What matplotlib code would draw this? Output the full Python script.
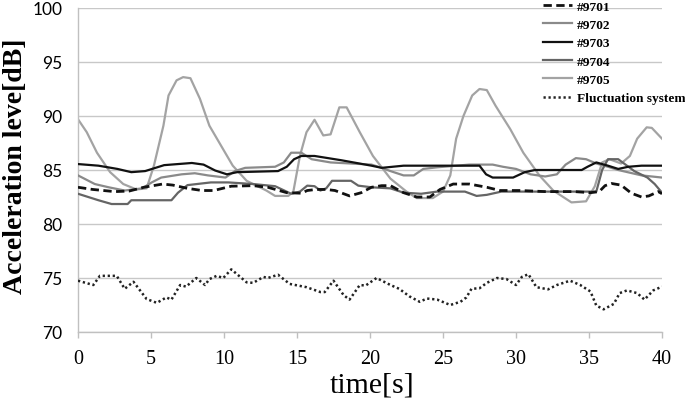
import matplotlib
matplotlib.use("Agg")
import matplotlib.pyplot as plt

# ---- data ----
t_9701 = [0, 1.0, 2.5, 3.5, 4.5, 5.8, 6.5, 7.5, 8.5, 9.3, 10.5, 12.0, 13.0, 14.3, 15.3, 15.7, 16.3,
          17.0, 17.6, 18.6, 19.4, 20.1, 20.8, 21.4, 22.3, 23.2, 24.1, 24.8, 25.7, 26.8, 28.0, 28.9,
          30.3, 32.0, 34.0, 35.1, 35.7, 36.1, 36.55, 37.2, 37.9, 38.6, 39.1, 39.75, 40]
v_9701 = [83.4, 83.2, 83.0, 83.05, 83.4, 83.7, 83.6, 83.3, 83.1, 83.1, 83.5, 83.55, 83.4, 82.9, 82.85,
          83.1, 83.2, 83.2, 83.1, 82.6, 82.9, 83.4, 83.55, 83.55, 82.9, 82.5, 82.5, 83.2, 83.7, 83.7,
          83.4, 83.1, 83.1, 83.0, 83.0, 82.9, 83.0, 83.55, 83.75, 83.6, 82.85, 82.5, 82.6, 83.0, 82.8]

t_9702 = [0, 1.15, 2.1, 3.2, 4.4, 5.05, 5.7, 7.1, 8.0, 8.9, 10.1, 10.75, 11.45, 13.5, 14.1, 14.6,
          15.3, 16.0, 17.3, 18.7, 20.1, 20.8, 21.4, 22.3, 23.0, 23.65, 24.6, 26.8, 28.4, 29.1, 30.0,
          31.0, 32.0, 32.8, 33.4, 34.1, 34.8, 35.5, 36.3, 37.0, 38.6, 40]
v_9702 = [84.5, 83.7, 83.4, 83.1, 83.3, 83.85, 84.3, 84.6, 84.7, 84.5, 84.3, 84.9, 85.2, 85.3, 85.7,
          86.6, 86.6, 86.0, 85.7, 85.6, 85.5, 85.2, 84.9, 84.5, 84.5, 85.1, 85.25, 85.5, 85.5, 85.3,
          85.1, 84.6, 84.4, 84.6, 85.5, 86.1, 86.0, 85.6, 85.3, 85.0, 84.5, 84.3]

t_9703 = [0, 1.4, 2.7, 3.65, 4.6, 5.9, 7.8, 8.6, 9.4, 10.2, 10.9, 13.7, 14.3, 14.8, 15.3, 16.2, 18.05,
          20.1, 20.8, 22.3, 27.5, 27.95, 28.4, 29.8, 30.6, 31.3, 34.5, 34.9, 35.5, 36.3, 37.0, 37.7,
          38.6, 40]
v_9703 = [85.55, 85.4, 85.1, 84.8, 84.9, 85.45, 85.65, 85.5, 84.95, 84.6, 84.8, 84.9, 85.3, 86.0, 86.3,
          86.3, 85.9, 85.4, 85.2, 85.4, 85.4, 84.6, 84.3, 84.3, 84.8, 85.0, 85.0, 85.3, 85.7, 85.4,
          85.1, 85.3, 85.4, 85.4]

t_9704 = [0, 1.4, 2.3, 3.4, 3.65, 4.6, 6.4, 6.85, 7.5, 9.1, 10.3, 12.0, 13.5, 14.6, 15.2, 15.7, 16.2,
          16.6, 17.0, 17.4, 18.7, 19.2, 20.1, 21.4, 22.3, 23.5, 24.6, 26.5, 27.3, 28.0, 29.0, 30.0,
          32.0, 34.0, 35.5, 35.9, 36.3, 37.0, 38.1, 39.0, 39.5, 40]
v_9704 = [82.8, 82.2, 81.85, 81.85, 82.2, 82.2, 82.2, 82.9, 83.6, 83.85, 83.85, 83.7, 83.5, 82.8, 83.0,
          83.55, 83.5, 83.1, 83.3, 84.0, 84.0, 83.55, 83.4, 83.3, 82.9, 82.8, 83.0, 83.0, 82.6, 82.7,
          83.0, 83.0, 83.0, 83.0, 83.0, 85.0, 86.0, 86.0, 84.9, 84.3, 83.7, 82.9]

t_9705 = [0, 0.6, 1.3, 2.2, 3.1, 4.0, 4.7, 5.2, 5.85, 6.2, 6.75, 7.2, 7.7, 8.35, 9.0, 9.95, 10.6, 11.55,
          12.9, 13.5, 14.4, 14.75, 15.2, 15.65, 16.2, 16.8, 17.3, 17.9, 18.4, 19.3, 20.2, 21.4, 22.5,
          23.2, 24.3, 25.0, 25.5, 25.9, 26.4, 27.0, 27.5, 28.0, 28.6, 29.6, 30.5, 31.6, 32.55, 33.8,
          34.8, 35.4, 35.9, 36.4, 37.2, 37.8, 38.3, 38.95, 39.3, 40]
v_9705 = [89.7, 88.5, 86.6, 84.8, 83.7, 83.2, 83.3, 85.4, 89.1, 91.9, 93.3, 93.6, 93.5, 91.6, 89.1, 86.9,
          85.4, 84.0, 83.1, 82.6, 82.6, 83.0, 86.3, 88.5, 89.65, 88.2, 88.3, 90.8, 90.8, 88.5, 86.3,
          84.2, 83.0, 82.4, 82.4, 83.0, 84.5, 87.9, 90.0, 91.9, 92.5, 92.4, 90.95, 88.8, 86.6, 84.5,
          83.1, 82.0, 82.1, 83.5, 85.7, 86.0, 85.6, 86.3, 87.9, 88.95, 88.9, 87.9]

t_fluct = [0, 1.05, 1.5, 2.65, 3.2, 3.8, 4.7, 5.4, 6.05, 6.4, 7.0, 7.4, 8.1, 8.7, 9.0, 9.5, 9.95, 10.5,
           11.55, 12.0, 12.7, 13.0, 13.7, 14.5, 15.65, 16.6, 16.9, 17.5, 18.2, 18.6, 19.3, 19.7,
           20.45, 21.4, 22.0, 22.7, 23.4, 23.9, 24.6, 25.5, 26.2, 26.6, 26.95, 27.5, 28.0, 28.7,
           29.35, 30.0, 30.4, 30.85, 31.4, 32.2, 32.8, 33.7, 34.4, 35.1, 35.5, 36.0, 36.7, 37.1,
           37.6, 38.3, 38.8, 39.4, 40]
v_fluct = [74.75, 74.35, 75.2, 75.2, 74.0, 74.65, 73.05, 72.7, 73.2, 73.0, 74.35, 74.2, 75.0, 74.35,
           74.9, 75.2, 75.0, 75.8, 74.6, 74.55, 75.1, 75.0, 75.3, 74.45, 74.15, 73.7, 73.7, 74.75,
           73.4, 73.0, 74.35, 74.3, 75.0, 74.35, 74.0, 73.3, 72.8, 73.1, 73.0, 72.5, 72.8, 73.2,
           74.0, 74.05, 74.55, 75.0, 74.9, 74.35, 75.1, 75.35, 74.15, 73.95, 74.35, 74.75, 74.35,
           73.75, 72.45, 72.1, 72.6, 73.6, 73.85, 73.6, 73.0, 73.85, 74.2]

labels = ["#9701", "#9702", "#9703", "#9704", "#9705", "Fluctuation system"]
x_ticks = [0, 5, 10, 15, 20, 25, 30, 35, 40]
y_ticks = [70, 75, 80, 85, 90, 95, 100]

# ---- figure ----
fig = plt.figure(figsize=(6.85, 4.06), dpi=100)
ax = fig.add_axes([78 / 685, 1 - 333 / 406, 584 / 685, 324 / 406])

ax.plot(t_9705, v_9705, color="#a3a3a3", lw=1.6, label=labels[4], zorder=2)
ax.plot(t_9702, v_9702, color="#8a8a8a", lw=1.6, label=labels[1], zorder=3)
ax.plot(t_9704, v_9704, color="#656565", lw=1.6, label=labels[3], zorder=3)
ax.plot(t_9703, v_9703, color="#111111", lw=1.6, label=labels[2], zorder=4)
ax.plot(t_9701, v_9701, color="#111111", lw=2.0, dashes=(3, 1.6), label=labels[0], zorder=5)
ax.plot(t_fluct, v_fluct, color="#222222", lw=1.8, dashes=(0.9, 1.1), label=labels[5], zorder=5)

ax.set_xlim(0, 40)
ax.set_ylim(70, 100)
ax.set_xticks(x_ticks)
ax.set_yticks(y_ticks)
ax.set_xticklabels([str(v) for v in x_ticks], family="Liberation Serif", fontsize=14.5)
ax.set_yticklabels([str(v) for v in y_ticks], family="Lato", fontsize=12.5)
ax.tick_params(axis="y", length=0, pad=11)
ax.tick_params(axis="x", length=4, width=1, color="#bfbfbf", pad=8, direction="out")
ax.grid(axis="y", color="#c8c8c8", lw=1)
ax.set_axisbelow(True)
for s in ["top", "right"]:
    ax.spines[s].set_visible(False)
for s in ["left", "bottom"]:
    ax.spines[s].set_color("#c0c0c0")
    ax.spines[s].set_linewidth(1)

ax.set_xlabel("time[s]", family="Liberation Serif", fontsize=21.5)
ax.xaxis.set_label_coords(0.503, -0.123)
ax.set_ylabel("Acceleration leve[dB]", family="Liberation Serif", fontsize=20, fontweight="bold")
ax.yaxis.set_label_coords(-0.086, 0.515)

handles, labs = ax.get_legend_handles_labels()
order = [labs.index(l) for l in labels]
leg = ax.legend([handles[i] for i in order], [labs[i] for i in order],
                loc="upper left", bbox_to_anchor=(543 / 685, 0.997), bbox_transform=fig.transFigure,
                frameon=False, borderpad=0, borderaxespad=0, handlelength=2.2, handletextpad=0.35,
                labelspacing=0.45, prop={"family": "Liberation Serif", "weight": "bold", "size": 9.6})

fig.savefig("out.png", dpi=100)
